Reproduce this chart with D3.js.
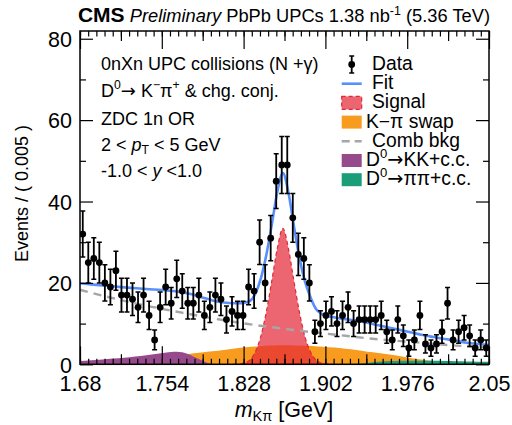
<!DOCTYPE html>
<html><head><meta charset="utf-8">
<script src="https://cdn.jsdelivr.net/npm/d3@7"></script>
<style>
body{margin:0;background:#fff}
svg{display:block;font-family:"Liberation Sans",Arial,Helvetica,sans-serif}
text{white-space:pre}
</style></head><body>
<svg id="c" width="512" height="425"></svg>
<script>
// ---------------- data ----------------
const xRange = [1.68, 2.05];
const binWidth = 0.005;
const counts = [32,25,26,25,20,19,23,17,17,16,14,17,12,6,14,19,15,21,18,15,
                15,17,12,14,17,16,11,13,12,12,19,18,30,20,31,45,49,49,36,27,
                26,20,8,10,12,13,10,12,14,10,11,11,11,11,12,8,6,11,7,4,
                6,12,5,4,5,8,15,6,8,9,7,4,6,4];
const xTickLabels = ["1.68","1.754","1.828","1.902","1.976","2.05"];
const yTickLabels = ["0","20","40","60","80"];

const fitMass = [1.68,1.70,1.72,1.74,1.76,1.77,1.78,1.79,1.80,1.81,1.8185,1.8235,1.8285,1.8335,1.8385,1.8435,1.8485,1.8535,1.8585,1.8635,1.8685,1.8735,1.8785,1.8835,1.8885,1.8935,1.8985,1.9035,1.9085,1.92,1.93,1.94,1.95,1.96,1.97,1.98,1.99,2.00,2.01,2.02,2.03,2.04,2.05];
const fitValues = [19.9,19.4,18.9,18.5,18.1,17.8,17.3,16.5,15.7,15.2,15.0,15.0,15.1,15.5,17.3,21.0,26.8,34.3,42.4,47.0,42.3,34.0,26.2,20.4,16.5,13.6,12.4,11.9,11.6,11.1,10.7,10.2,9.6,9.0,8.4,7.8,7.2,6.7,6.2,5.8,5.3,5.0,4.7];

const signalMass = [1.8185,1.8235,1.8285,1.8335,1.8385,1.8435,1.8485,1.8535,1.8585,1.8635,1.8685,1.8735,1.8785,1.8835,1.8885,1.8935,1.8985,1.9035,1.9085];
const signalValues = [0,0.1,0.3,1.0,3.0,6.8,12.8,20.5,28.5,33.4,28.5,20.5,12.8,6.8,3.0,1.0,0.3,0.1,0];

const swapMass = [1.68,1.69,1.70,1.71,1.72,1.73,1.74,1.75,1.76,1.77,1.78,1.79,1.80,1.81,1.82,1.83,1.84,1.85,1.86,1.87,1.88,1.89,1.90,1.91,1.92,1.93,1.94,1.95,1.96,1.97,1.98,1.99,2.00,2.01,2.02,2.03,2.04,2.05];
const swapValues = [0,0.1,0.2,0.4,0.6,0.9,1.2,1.5,1.9,2.3,2.6,2.9,3.2,3.5,3.9,4.2,4.4,4.6,4.7,4.7,4.6,4.5,4.3,4.1,3.8,3.5,3.1,2.8,2.4,2.0,1.5,1.1,0.8,0.5,0.3,0.2,0.1,0.1];

const combMass = [1.68,1.70,1.72,1.74,1.76,1.78,1.80,1.82,1.84,1.86,1.88,1.90,1.92,1.94,1.96,1.98,2.00,2.02,2.04,2.05];
const combValues = [18.3,16.9,15.6,14.4,13.3,12.3,11.3,10.4,9.6,8.9,8.2,7.6,7.0,6.4,5.9,5.5,5.0,4.6,4.3,4.1];

const kkMass = [1.68,1.69,1.70,1.71,1.72,1.73,1.74,1.75,1.76,1.765,1.77,1.775,1.78,1.785,1.79,1.795,1.80,1.805];
const kkValues = [0.8,1.0,1.2,1.4,1.6,1.9,2.2,2.6,2.95,3.1,3.05,2.8,2.3,1.6,1.0,0.4,0.1,0];

const pipiMass = [1.93,1.94,1.95,1.96,1.97,1.98,1.99,2.00,2.01,2.02,2.03,2.04,2.05];
const pipiValues = [0,0.3,0.6,0.8,0.9,0.9,0.9,0.85,0.8,0.75,0.7,0.65,0.6];

const legendLabels = ["Data","Fit","Signal","K\u2212\u03c0 swap","Comb bkg","D0\u2192KK+c.c.","D0\u2192\u03c0\u03c0+c.c."];

// ---------------- style ----------------
const C = {fit:"#5790fc", swap:"#f89c20", sig:"#e42536", kk:"#964a8b", pipi:"#1b9e77", comb:"#a6a6aa"};
const svg = d3.select("#c");
const F = {l:80, r:489, t:31, b:364.3};
const x = d3.scaleLinear().domain(xRange).range([F.l, F.r]);
const y = d3.scaleLinear().domain([0, 81.9]).range([F.b, F.t]);

svg.append("clipPath").attr("id","clip").append("rect")
  .attr("x",F.l).attr("y",F.t).attr("width",F.r-F.l).attr("height",F.b-F.t);
const plot = svg.append("g").attr("clip-path","url(#clip)");

function areaPath(ms, vs){
  return d3.area().x((d,i)=>x(ms[i])).y0(y(0)).y1(d=>y(d)).curve(d3.curveMonotoneX)(vs);
}
function linePath(ms, vs){
  return d3.line().x((d,i)=>x(ms[i])).y(d=>y(d)).curve(d3.curveMonotoneX)(vs);
}

plot.append("path").attr("d",areaPath(swapMass,swapValues)).attr("fill",C.swap);
plot.append("path").attr("d",areaPath(kkMass,kkValues)).attr("fill",C.kk);
plot.append("path").attr("d",areaPath(pipiMass,pipiValues)).attr("fill",C.pipi);
plot.append("path").attr("d",areaPath(signalMass,signalValues)).attr("fill",C.sig).attr("fill-opacity",0.7)
  .attr("stroke",C.sig).attr("stroke-width",1.2).attr("stroke-dasharray","4,3");
plot.append("path").attr("d",linePath(combMass,combValues)).attr("fill","none")
  .attr("stroke",C.comb).attr("stroke-width",2.4).attr("stroke-dasharray","8,6");
plot.append("path").attr("d",linePath(fitMass,fitValues)).attr("fill","none")
  .attr("stroke",C.fit).attr("stroke-width",2.6);

// data points
const pts = counts.map((n,i)=>({m: xRange[0] + (i+0.5)*binWidth, n, e: Math.sqrt(n)}));
const dg = plot.append("g");
const cap = 2.5;
dg.selectAll("line.eb").data(pts).join("line").attr("class","eb")
  .attr("x1",d=>x(d.m)).attr("x2",d=>x(d.m)).attr("y1",d=>y(d.n-d.e)).attr("y2",d=>y(d.n+d.e))
  .attr("stroke","#000").attr("stroke-width",1.8);
dg.selectAll("line.ct").data(pts).join("line").attr("class","ct")
  .attr("x1",d=>x(d.m)-cap).attr("x2",d=>x(d.m)+cap).attr("y1",d=>y(d.n+d.e)).attr("y2",d=>y(d.n+d.e))
  .attr("stroke","#000").attr("stroke-width",1.5);
dg.selectAll("line.cb").data(pts).join("line").attr("class","cb")
  .attr("x1",d=>x(d.m)-cap).attr("x2",d=>x(d.m)+cap).attr("y1",d=>y(d.n-d.e)).attr("y2",d=>y(d.n-d.e))
  .attr("stroke","#000").attr("stroke-width",1.5);
dg.selectAll("circle").data(pts).join("circle")
  .attr("cx",d=>x(d.m)).attr("cy",d=>y(d.n)).attr("r",3.4).attr("fill","#000");

// ---------------- axes ----------------
const xMajor = xTickLabels.map(Number);
const xMid = d3.range(xMajor.length-1).map(i=>(xMajor[i]+xMajor[i+1])/2);
const xMinor = d3.range(0,51).map(i=>xRange[0]+i*0.0074);
const yMajor = yTickLabels.map(Number);
const yMinor = [10,30,50,70];

function axis(gen, vals, size, labels){
  const a = gen.tickValues(vals).tickSizeInner(-size).tickSizeOuter(0);
  if(!labels) a.tickFormat("");
  return a;
}
function addAxis(tr, a){
  const g = svg.append("g").attr("transform",tr).call(a);
  g.select(".domain").remove();
  g.selectAll(".tick line").attr("stroke","#000").attr("stroke-width",1.2);
  return g;
}
addAxis(`translate(0,${F.b})`, axis(d3.axisBottom(x), xMinor, 5.5, false));
addAxis(`translate(0,${F.b})`, axis(d3.axisBottom(x), xMid, 10, false));
const xLab = addAxis(`translate(0,${F.b})`, axis(d3.axisBottom(x), xMajor, 18, true).tickFormat((d,i)=>xTickLabels[i]).tickPadding(11));
addAxis(`translate(0,${F.t})`, axis(d3.axisTop(x), xMinor, 5.5, false));
addAxis(`translate(0,${F.t})`, axis(d3.axisTop(x), xMid, 10, false));
addAxis(`translate(0,${F.t})`, axis(d3.axisTop(x), xMajor, 18, false));
addAxis(`translate(${F.l},0)`, axis(d3.axisLeft(y), yMinor, 6, false));
const yLab = addAxis(`translate(${F.l},0)`, axis(d3.axisLeft(y), yMajor, 13, true).tickFormat((d,i)=>yTickLabels[i]).tickPadding(8));
addAxis(`translate(${F.r},0)`, axis(d3.axisRight(y), yMinor, 6, false));
addAxis(`translate(${F.r},0)`, axis(d3.axisRight(y), yMajor, 13, false));
xLab.selectAll("text").attr("font-size",21.5).attr("font-family","Liberation Sans, Arial").attr("fill","#000");
yLab.selectAll("text").attr("font-size",21.5).attr("font-family","Liberation Sans, Arial").attr("fill","#000").attr("dy","0.36em");

svg.append("rect").attr("x",F.l).attr("y",F.t).attr("width",F.r-F.l).attr("height",F.b-F.t)
  .attr("fill","none").attr("stroke","#000").attr("stroke-width",1.5);

// ---------------- text ----------------
function rich(xp, yp, parts, fs, anchor){
  const t = svg.append("text").attr("x",xp).attr("y",yp).attr("font-size",fs)
    .attr("text-anchor",anchor||"start").attr("fill","#000");
  let shift = 0;
  parts.forEach(p=>{
    const s = t.append("tspan").text(p.t);
    const target = p.sup ? -0.4*fs : p.sub ? 0.22*fs : 0;
    if(target !== shift){ s.attr("dy", target-shift); shift = target; }
    if(p.sup || p.sub) s.attr("font-size", fs*0.68);
    if(p.i) s.attr("font-style","italic");
    if(p.b) s.attr("font-weight","bold");
    if(p.fs) s.attr("font-size", p.fs);
    if(p.arrow) s.attr("font-family","DejaVu Sans");
  });
  return t;
}

// title
rich(490, 22, [{t:"CMS",b:true,fs:21},{t:" "},{t:"Preliminary",i:true},{t:" PbPb UPCs 1.38 nb"},{t:"-1",sup:true},{t:" (5.36 TeV)"}], 18.3, "end");

// annotations
const AF = 18;
rich(101, 70, [{t:"0nXn UPC collisions (N +\u03b3)"}], AF);
rich(101, 96.5, [{t:"D"},{t:"0",sup:true},{t:"\u2192",arrow:true},{t:" K"},{t:"\u2212",sup:true},{t:"\u03c0"},{t:"+",sup:true},{t:" & chg. conj."}], AF);
rich(101, 125, [{t:"ZDC 1n OR"}], AF);
rich(101, 150.5, [{t:"2 < "},{t:"p",i:true},{t:"T",sub:true},{t:" < 5 GeV"}], AF);
rich(101, 176.5, [{t:"-1.0 < "},{t:"y",i:true},{t:" <1.0"}], AF);

// axis titles
rich(284, 416.5, [{t:"m",i:true},{t:"K\u03c0",sub:true},{t:" [GeV]"}], 21.5, "middle");
svg.append("text").attr("transform","translate(28,193.5) rotate(-90)").attr("text-anchor","middle")
  .attr("font-size",18).attr("fill","#000").text("Events / ( 0.005 )");

// ---------------- legend ----------------
const LG = {x0:341.7, w:20, base:70, step:19.2, fs:19.3};
legendLabels.forEach((lab,i)=>{
  const bl = LG.base + i*LG.step, cy = bl - 5.5, cx = LG.x0 + LG.w/2;
  if(i===0){
    svg.append("line").attr("x1",cx).attr("x2",cx).attr("y1",cy-8.5).attr("y2",cy+8.5).attr("stroke","#000").attr("stroke-width",1.8);
    svg.append("line").attr("x1",cx-2.5).attr("x2",cx+2.5).attr("y1",cy-8.5).attr("y2",cy-8.5).attr("stroke","#000").attr("stroke-width",1.5);
    svg.append("line").attr("x1",cx-2.5).attr("x2",cx+2.5).attr("y1",cy+8.5).attr("y2",cy+8.5).attr("stroke","#000").attr("stroke-width",1.5);
    svg.append("circle").attr("cx",cx).attr("cy",cy).attr("r",3.4).attr("fill","#000");
  } else if(i===1){
    svg.append("line").attr("x1",LG.x0).attr("x2",LG.x0+LG.w).attr("y1",cy).attr("y2",cy).attr("stroke",C.fit).attr("stroke-width",2.6);
  } else if(i===4){
    svg.append("line").attr("x1",LG.x0).attr("x2",LG.x0+LG.w).attr("y1",cy).attr("y2",cy).attr("stroke",C.comb).attr("stroke-width",2.4).attr("stroke-dasharray","8,5");
  } else {
    const col = [null,null,C.sig,C.swap,null,C.kk,C.pipi][i];
    const r = svg.append("rect").attr("x",LG.x0).attr("y",cy-6.5).attr("width",LG.w).attr("height",13).attr("fill",col);
    if(i===2) r.attr("fill-opacity",0.7).attr("stroke",C.sig).attr("stroke-width",1.2).attr("stroke-dasharray","4,3");
  }
  const tx = (i===3||i===5||i===6) ? 366 : 372;
  const parts = lab.startsWith("D0")
    ? [{t:"D"},{t:"0",sup:true},{t:"\u2192",arrow:true},{t:lab.slice(3)}]
    : [{t:lab}];
  rich(tx, bl, parts, LG.fs);
});
</script>
</body></html>
